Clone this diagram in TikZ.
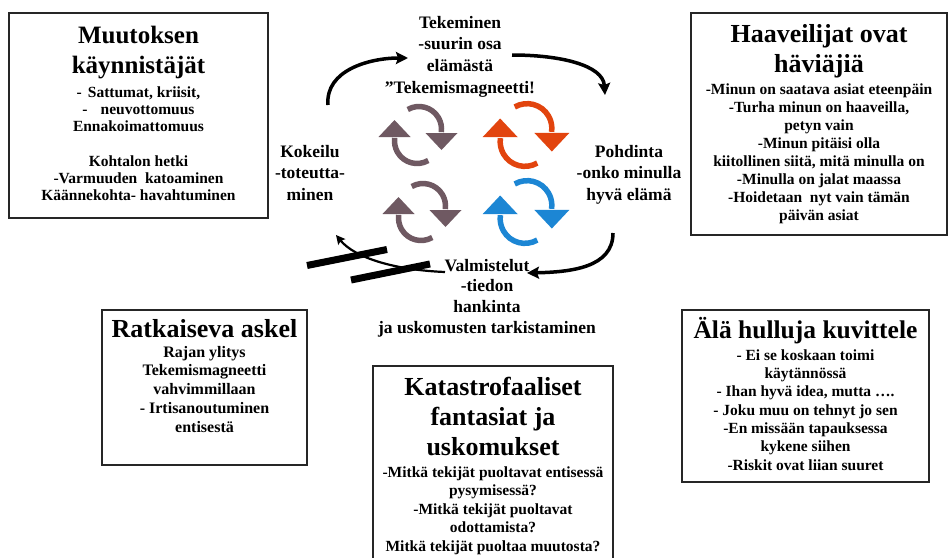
\documentclass[tikz,border=0pt]{standalone}
\usepackage{fontspec}
\setmainfont{Liberation Serif}
\usetikzlibrary{arrows.meta}
\definecolor{mauve}{RGB}{111,89,98}
\definecolor{orng}{RGB}{226,68,14}
\definecolor{blu}{RGB}{28,134,212}
\newcommand\fst{\vrule width 0pt height 0.9em\relax}
\tikzset{cycicon/.pic={
  \foreach \r in {0,180}{
    \begin{scope}[rotate=\r]
      \draw[line width=5.5pt] (1,-6) ++(-120:22.5) arc[start angle=-120,end angle=8,radius=22.5];
      \fill (7.5,-2) -- (39.5,-2) -- (23.5,15) -- cycle;
    \end{scope}
  }
}}
\begin{document}
\begin{tikzpicture}[x=1pt,y=-1pt,
  box/.style={draw=black!85, line width=1.8pt},
  txt/.style={inner sep=0pt, anchor=north, align=center},
  body/.style={txt, font=\bfseries\fontsize{15.5}{#1}\selectfont},
  ttl/.style={txt, font=\bfseries\fontsize{#1}{30}\selectfont},
  ctext/.style={txt, font=\bfseries\fontsize{17.5}{#1}\selectfont},
  conn/.style={line width=3.5pt, -{Stealth[length=12pt,width=12pt,inset=2pt]}},
  thinconn/.style={line width=2.2pt, -{Stealth[length=9pt,width=9pt,inset=1.5pt]}},
  bar/.style={line width=7pt}
]
\useasboundingbox (0,0) rectangle (949,557);
\fill[white] (0,0) rectangle (949,557);
\clip (0,0) rectangle (949,557);

% boxes
\draw[box] (9,13) rectangle (268,218);
\draw[box] (691,13) rectangle (947,235);
\draw[box] (102,310) rectangle (307,465);
\draw[box] (373,366) rectangle (613,580);
\draw[box] (682,310) rectangle (929,482);

% box 1
\node[ttl=25] (t1) at (138.5,20.5) {\fst Muutoksen\\käynnistäjät};
\node[body=17.2] (b1) at (138.5,83.05) {\fst -\hspace{6pt}Sattumat, kriisit,\\-\hspace{13pt}neuvottomuus\\Ennakoimattomuus\\[17.2pt]Kohtalon hetki\\-Varmuuden\ \ katoaminen\\Käännekohta- havahtuminen};

% box 2
\node[ttl=26] (t2) at (819,18.6) {\fst Haaveilijat ovat\\häviäjiä};
\node[body=18.1] (b2) at (819,80.05) {\fst -Minun on saatava asiat eteenpäin\\-Turha minun on haaveilla,\\petyn vain\\-Minun pitäisi olla\\kiitollinen siitä, mitä minulla on\\-Minulla on jalat maassa\\-Hoidetaan\ \ nyt vain tämän\\päivän asiat};

% box 3
\node[ttl=26] (t3) at (204.5,313.6) {\fst Ratkaiseva askel};
\node[txt, font=\bfseries\fontsize{16}{18.75}\selectfont] (b3) at (204.5,342.6) {\fst Rajan ylitys\\Tekemismagneetti\\vahvimmillaan\\- Irtisanoutuminen\\entisestä};

% box 4
\node[ttl=26] (t4) at (493,371.6) {\fst Katastrofaaliset\\fantasiat ja\\uskomukset};
\node[body=18.5] (b4) at (493,463.05) {\fst -Mitkä tekijät puoltavat entisessä\\pysymisessä?\\-Mitkä tekijät puoltavat\\odottamista?\\Mitkä tekijät puoltaa muutosta?};

% box 5
\node[ttl=25.5] (t5) at (805.5,315.05) {\fst Älä hulluja kuvittele};
\node[body=18.3] (b5) at (805.5,346.05) {\fst - Ei se koskaan toimi\\käytännössä\\- Ihan hyvä idea, mutta ….\\- Joku muu on tehnyt jo sen\\-En missään tapauksessa\\kykene siihen\\-Riskit ovat liian suuret};

% cycle texts
\node[ctext=21.7] (tek) at (460,12.25) {\fst Tekeminen\\-suurin osa\\elämästä\\”Tekemismagneetti!};
\node[ctext=21.5] (kok) at (310,141.25) {\fst Kokeilu\\-toteutta-\\minen};
\node[ctext=21.5] (poh) at (629,141.25) {\fst Pohdinta\\-onko minulla\\hyvä elämä};
\node[ctext=20.7] (val) at (487,255.25) {\fst Valmistelut\\-tiedon\\hankinta\\ja uskomusten tarkistaminen};

% cycle arrows
\coordinate (a1s) at (328,105); \coordinate (a1e) at (408,58);
\coordinate (a2s) at (512,55);  \coordinate (a2e) at (605,95);
\coordinate (a3s) at (613,233); \coordinate (a3e) at (527,273);
\coordinate (a4s) at (445,272); \coordinate (a4e) at (336,235);
\draw[conn] (a1s) .. controls (325,70) and (370,58) .. (a1e);
\draw[conn] (a2s) .. controls (560,55) and (603,65) .. (a2e);
\draw[conn] (a3s) .. controls (613,268) and (570,272) .. (a3e);
\draw[thinconn] (a4s) .. controls (395,270) and (355,258) .. (a4e);

% crossing bars
\draw[bar] (307,265.5) -- (387,249.5);
\draw[bar] (351,280) -- (430,264);

% circular icons
\pic[color=mauve] at (418,135) {cycicon};
\pic[color=orng, scale=1.1] at (526,135) {cycicon};
\pic[color=mauve] at (422,212) {cycicon};
\pic[color=blu, scale=1.1] at (526,212) {cycicon};
\end{tikzpicture}
\end{document}
